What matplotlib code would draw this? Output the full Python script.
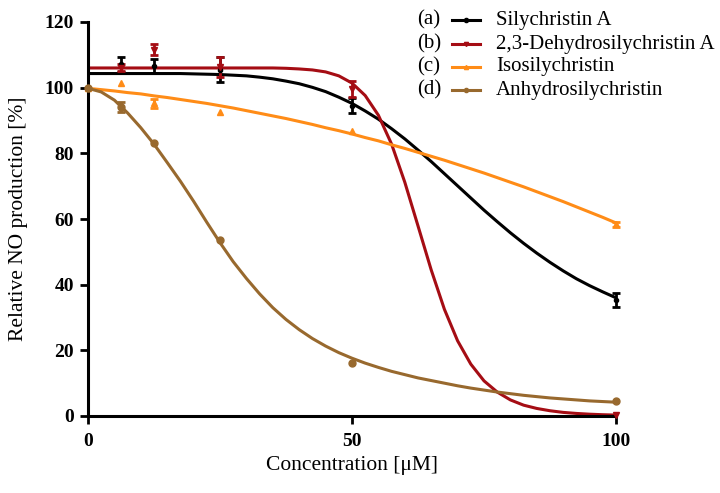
import numpy as np
import matplotlib
matplotlib.use("Agg")
import matplotlib.pyplot as plt
from matplotlib.lines import Line2D

# ---------------- data ----------------
conc = [0, 6.25, 12.5, 25, 50, 100]
nan = np.nan

sily_y   = [nan, 107.1, 106.5, 105.5, 94.5, 35.3]
sily_err = [nan, 2.3, 2.1, 3.7, 2.3, 2.2]
dehy_y   = [nan, 106.1, 111.6, 106.4, 99.6, 0.3]
dehy_err = [nan, 1.0, 1.7, 3.0, 2.3, nan]
iso_y    = [100.0, 101.3, 95.2, 92.7, 86.8, 58.4]
iso_err  = [nan, nan, 1.5, nan, nan, 0.8]
anh_y    = [99.8, 94.2, 83.1, 53.6, 16.0, 4.5]
anh_err  = [nan, 1.5, nan, nan, nan, nan]

# fitted curves at 2.5 uM steps
fit_x = [0, 2.5, 5, 7.5, 10, 12.5, 15, 17.5, 20, 22.5, 25, 27.5, 30, 32.5,
         35, 37.5, 40, 42.5, 45, 47.5, 50, 52.5, 55, 57.5, 60, 62.5, 65,
         67.5, 70, 72.5, 75, 77.5, 80, 82.5, 85, 87.5, 90, 92.5, 95, 97.5, 100]
sily_fit = [104.3, 104.3, 104.3, 104.3, 104.3, 104.3, 104.3, 104.3, 104.2, 104.1,
            104.0, 103.8, 103.6, 103.2, 102.7, 102.0, 101.2, 100.1, 98.8, 97.1,
            95.2, 92.9, 90.4, 87.5, 84.4, 81.0, 77.5, 73.8, 70.1, 66.4, 62.7,
            59.2, 55.8, 52.6, 49.6, 46.8, 44.2, 41.8, 39.7, 37.8, 36.0]
dehy_fit = [106.0, 106.0, 106.0, 106.0, 106.0, 106.0, 106.0, 106.0, 106.0, 106.0,
            106.0, 106.0, 106.0, 106.0, 106.0, 105.9, 105.7, 105.4, 104.8, 103.6,
            101.4, 97.6, 91.6, 82.8, 71.2, 57.9, 44.5, 32.5, 22.9, 15.8, 10.7,
            7.3, 4.9, 3.3, 2.3, 1.6, 1.1, 0.78, 0.55, 0.39, 0.28]
iso_fit = [99.8, 99.4, 99.0, 98.5, 98.1, 97.5, 97.0, 96.4, 95.8, 95.2, 94.5,
           93.8, 93.0, 92.2, 91.4, 90.6, 89.7, 88.8, 87.8, 86.9, 85.9, 84.8,
           83.8, 82.6, 81.5, 80.3, 79.1, 77.9, 76.6, 75.3, 74.0, 72.6, 71.2,
           69.8, 68.3, 66.8, 65.3, 63.7, 62.1, 60.5, 58.8]
anh_fit = [99.8, 98.7, 96.2, 92.3, 87.8, 82.8, 77.2, 71.5, 65.4, 59.0, 52.8,
           47.0, 41.9, 37.2, 33.0, 29.4, 26.3, 23.6, 21.3, 19.3, 17.6, 16.1,
           14.8, 13.6, 12.6, 11.6, 10.8, 10.0, 9.2, 8.5, 7.9, 7.3, 6.8, 6.3,
           5.9, 5.5, 5.2, 4.9, 4.6, 4.4, 4.2]

labels = ["Silychristin A", "2,3-Dehydrosilychristin A", "Isosilychristin",
          "Anhydrosilychristin"]
tags = ["(a)", "(b)", "(c)", "(d)"]
x_ticks = [0, 50, 100]
y_ticks = [0, 20, 40, 60, 80, 100, 120]

# ---------------- style ----------------
colors = ["#000000", "#a50d14", "#ff8c17", "#98692e"]
markers = ["o", "v", "^", "o"]
msizes = [3, 5, 5, 5]
serif = ["Liberation Serif", "DejaVu Serif"]
plt.rcParams["font.family"] = serif

W, H = 720, 493
fig = plt.figure(figsize=(W / 100, H / 100), dpi=100)
ax = fig.add_axes([88 / W, 1 - 416 / H, (616 - 88) / W, (416 - 22) / H])

series = [(sily_fit, sily_y, sily_err), (dehy_fit, dehy_y, dehy_err),
          (iso_fit, iso_y, iso_err), (anh_fit, anh_y, anh_err)]
for (fy, py, pe), c, m, ms in zip(series, colors, markers, msizes):
    ax.plot(fit_x, fy, color=c, lw=2.2, clip_on=False, solid_capstyle="butt")
    ax.errorbar(conc, py, yerr=pe, fmt=m, color=c, ms=ms, elinewidth=2.0,
                capsize=3, capthick=2.0, clip_on=False, zorder=3)

ax.set_xlim(0, 100)
ax.set_ylim(0, 120)
ax.set_xticks(x_ticks)
ax.set_yticks(y_ticks)
for s in ["top", "right"]:
    ax.spines[s].set_visible(False)
for s in ["left", "bottom"]:
    ax.spines[s].set_linewidth(2.2)
ax.tick_params(direction="out", length=6, width=2.0, labelsize=14, pad=4)
for lab in ax.get_xticklabels() + ax.get_yticklabels():
    lab.set_fontweight("bold")
ax.tick_params(axis="x", pad=6)

ax.set_xlabel("Concentration [μM]", fontsize=15.5)
ax.xaxis.set_label_coords(0.5, (416 - 456) / 394)
ax.set_ylabel("Relative NO production [%]", fontsize=15.5)
ax.yaxis.set_label_coords((28 - 88) / 528, 0.5)

# legend
rows = [20, 44, 67, 90]
for t, lab, c, m, ms, yy in zip(tags, labels, colors, markers, msizes, rows):
    yf = 1 - yy / H
    fig.text(417 / W, yf, t, fontsize=15, va="center", ha="left")
    fig.add_artist(Line2D([452 / W, 480 / W], [yf, yf], transform=fig.transFigure,
                          color=c, lw=2.2))
    fig.add_artist(Line2D([466 / W], [yf], transform=fig.transFigure, color=c,
                          marker=m, ms=3, lw=0))
    fig.text(496 / W, yf, lab, fontsize=15, va="center", ha="left")

fig.savefig("out.png", dpi=100)
